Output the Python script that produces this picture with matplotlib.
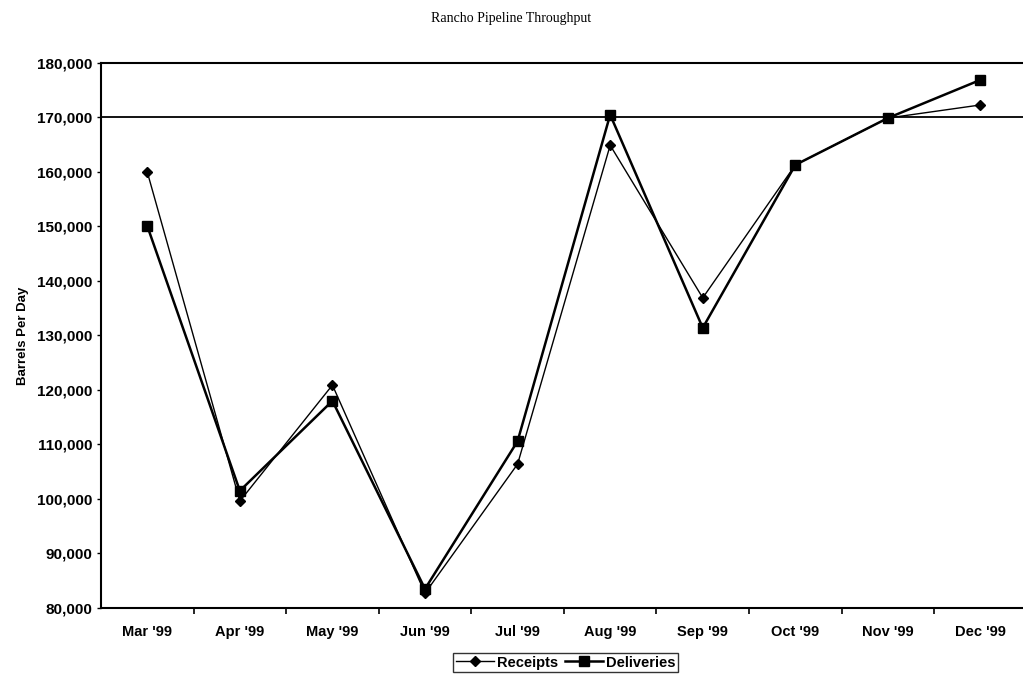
import matplotlib.pyplot as plt
from matplotlib.ticker import FuncFormatter

# Monthly pipeline throughput, barrels per day
months = ["Mar '99", "Apr '99", "May '99", "Jun '99", "Jul '99",
          "Aug '99", "Sep '99", "Oct '99", "Nov '99", "Dec '99"]
receipts = [160000, 99600, 120900, 82700, 106400, 164900, 136900, 161300, 169900, 172300]
deliveries = [150100, 101500, 118000, 83500, 110600, 170500, 131400, 161300, 169900, 176900]

fig = plt.figure(figsize=(10.23, 6.75), dpi=100)
ax = fig.add_axes([0.0987, 0.0993, 0.905, 0.8074])

x = range(len(months))
ax.plot(x, receipts, color='black', lw=1.0, marker='D', ms=5, label='Receipts')
ax.plot(x, deliveries, color='black', lw=1.8, marker='s', ms=7, label='Deliveries')

# reference line at 170,000
ax.axhline(170000, color='black', lw=1.3)

ax.set_xlim(-0.5, len(months) - 0.5)
ax.set_ylim(80000, 180000)
ax.set_yticks(range(80000, 180001, 10000))
ax.yaxis.set_major_formatter(FuncFormatter(lambda v, p: f'{int(v):,}'))

# x ticks sit between categories, labels centred on categories
ax.set_xticks([i + 0.5 for i in range(len(months) - 1)])
ax.set_xticklabels([])
ax.set_xticks(list(x), minor=True)
ax.set_xticklabels(months, minor=True)
ax.tick_params(axis='x', which='minor', length=0, pad=12)
ax.tick_params(axis='x', which='major', length=4, width=1.2, direction='out')
ax.tick_params(axis='y', length=3, width=1.0, direction='out', pad=3)

for lab in ax.get_xticklabels(minor=True):
    lab.set_fontfamily('Liberation Sans')
    lab.set_fontweight('bold')
    lab.set_fontsize(10.5)
for lab in ax.get_yticklabels():
    lab.set_fontfamily('Liberation Sans')
    lab.set_fontweight('bold')
    lab.set_fontsize(11)

for side in ['left', 'bottom', 'top']:
    ax.spines[side].set_linewidth(1.5)
ax.spines['right'].set_visible(False)

ax.set_ylabel('Barrels Per Day', fontfamily='Liberation Sans', fontweight='bold',
              fontsize=9.5, labelpad=6)

fig.text(0.5, 0.973, 'Rancho Pipeline Throughput', ha='center', va='center',
         fontfamily='Liberation Serif', fontsize=10)

leg = fig.legend(loc='upper center', bbox_to_anchor=(0.553, 0.044), ncol=2,
                 frameon=True, fancybox=False, handlelength=2.6,
                 columnspacing=0.5, handletextpad=0.2, borderpad=0.2,
                 prop={'family': 'Liberation Sans', 'weight': 'bold', 'size': 10.5})
leg.get_frame().set_edgecolor('black')
leg.get_frame().set_linewidth(1.0)

fig.savefig('out.png', dpi=100)
